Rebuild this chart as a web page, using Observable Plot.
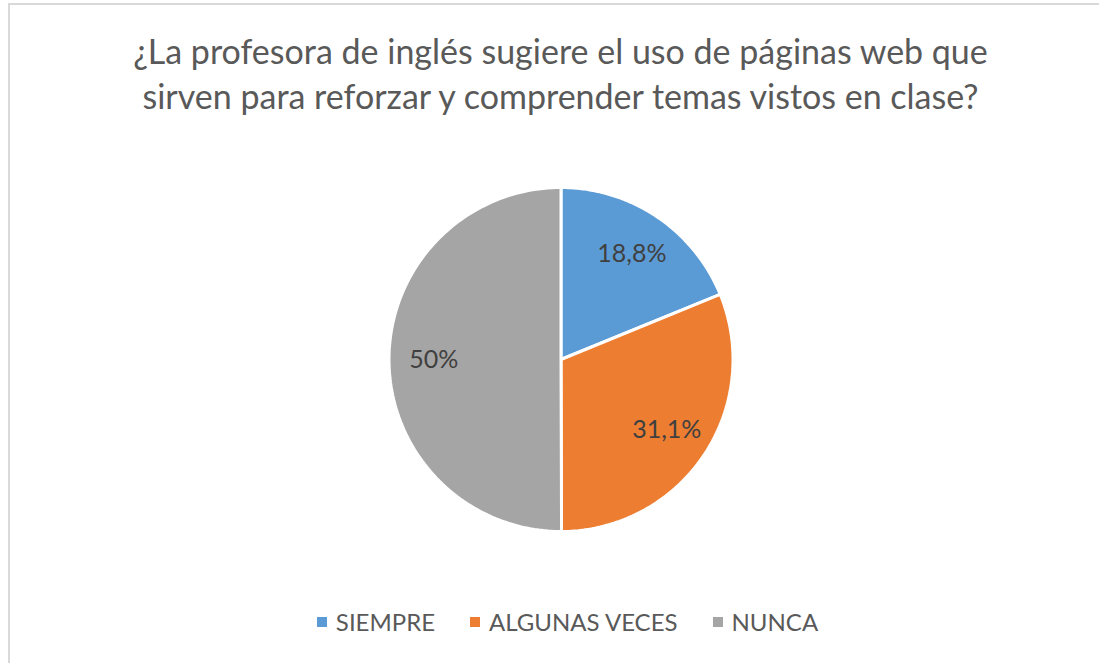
<!DOCTYPE html>
<html>
<head>
<meta charset="utf-8">
<script src="https://cdn.jsdelivr.net/npm/d3@7"></script>
<script src="https://cdn.jsdelivr.net/npm/@observablehq/plot@0.6"></script>
<style>
  html, body { margin: 0; padding: 0; background: #fff; }
  body { width: 1099px; height: 663px; position: relative; overflow: hidden; font-family: Lato, "Open Sans", sans-serif; }
  #frame { position: absolute; left: 8px; top: 3px; width: 1200px; height: 800px; border-top: 2px solid #d9d9d9; border-left: 2px solid #d9d9d9; box-sizing: border-box; }
  #title { position: absolute; left: 0; top: 28px; width: 1121px; text-align: center; color: #595959; font-size: 34px; line-height: 45px; white-space: nowrap; }
  #chart { position: absolute; left: 0; top: 0; }
  #legend { position: absolute; left: 7px; top: 606px; width: 1121px; display: flex; justify-content: center; gap: 35px; color: #595959; font-size: 24px; line-height: 32px; }
  .item { display: flex; align-items: center; gap: 9px; }
  .sw { width: 10px; height: 10px; display: inline-block; }
</style>
</head>
<body>
<div id="frame"></div>
<div id="chart"></div>
<div id="title">¿La profesora de inglés sugiere el uso de páginas web que<br>sirven para reforzar y comprender temas vistos en clase?</div>
<div id="legend"></div>
<script>
const categories = ["SIEMPRE", "ALGUNAS VECES", "NUNCA"];
const values = [18.8, 31.1, 50];
const labels = ["18,8%", "31,1%", "50%"];
const colors = ["#5B9BD5", "#ED7D31", "#A5A5A5"];

const arcs = d3.pie().sort(null).value(d => d)(values);
const pts = [];
arcs.forEach((a, i) => {
  const key = categories[i];
  pts.push({key, x: 0, y: 0});
  const n = 120;
  for (let k = 0; k <= n; k++) {
    const t = a.startAngle + (a.endAngle - a.startAngle) * k / n;
    pts.push({key, x: Math.sin(t), y: Math.cos(t)});
  }
  pts.push({key, x: 0, y: 0});
});
const lab = arcs.map((a, i) => {
  const m = (a.startAngle + a.endAngle) / 2;
  const r = 0.74;
  return {label: labels[i], x: r * Math.sin(m), y: r * Math.cos(m)};
});

const cx = 560.5, cy = 359, R = 172;
const plot = Plot.plot({
  width: 1099, height: 663,
  margin: 0,
  style: {background: "transparent", overflow: "visible"},
  x: {domain: [-1, 1], range: [cx - R, cx + R], axis: null},
  y: {domain: [-1, 1], range: [cy + R, cy - R], axis: null},
  color: {domain: categories, range: colors},
  marks: [
    Plot.line(pts, {x: "x", y: "y", z: "key", fill: "key", stroke: "white", strokeWidth: 3, strokeLinejoin: "miter", curve: "linear"}),
    Plot.text(lab, {x: "x", y: "y", text: "label", fill: "#404040", fontSize: 25, fontFamily: "Lato, 'Open Sans', sans-serif"})
  ]
});
document.getElementById("chart").appendChild(plot);

const legend = document.getElementById("legend");
categories.forEach((c, i) => {
  const it = document.createElement("div");
  it.className = "item";
  const sw = document.createElement("span");
  sw.className = "sw";
  sw.style.background = colors[i];
  const tx = document.createElement("span");
  tx.textContent = c;
  it.appendChild(sw); it.appendChild(tx);
  legend.appendChild(it);
});
</script>
</body>
</html>
